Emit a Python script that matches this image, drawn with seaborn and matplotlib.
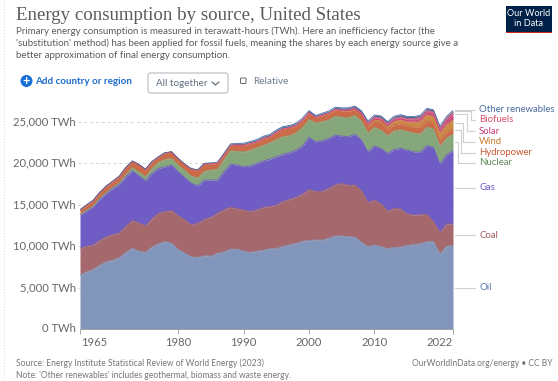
import numpy as np
import pandas as pd
import matplotlib.pyplot as plt
from matplotlib.patches import Circle, FancyBboxPatch, Rectangle
import seaborn as sns

# values in TWh
years = list(range(1965, 2023))
oil = [6500, 6900, 7200, 7700, 8100, 8300, 8600, 9250, 9750, 9400,
       9250, 9900, 10300, 10550, 10350, 9600, 9150, 8700, 8650, 8850,
       8800, 9150, 9300, 9650, 9650, 9400, 9250, 9400, 9500, 9700,
       9700, 10000, 10150, 10350, 10600, 10700, 10750, 10750, 10950, 11250,
       11250, 11150, 11100, 10450, 9950, 10150, 9950, 9700, 9850, 9900,
       10100, 10200, 10300, 10550, 10550, 9050, 10000, 10100]
coal = [3250, 3100, 2950, 3000, 3030, 3100, 3000, 3150, 3350, 3400,
        3230, 3400, 3700, 3650, 3950, 4100, 4050, 3860, 4150, 4400,
        4700, 4850, 5100, 5050, 4900, 4970, 4950, 5000, 5200, 5100,
        5270, 5400, 5510, 5550, 5700, 6170, 5850, 5880, 6050, 6150,
        6350, 6200, 6300, 6250, 5310, 5430, 5150, 4550, 4720, 4600,
        3800, 3570, 3500, 3300, 2410, 2580, 2690, 2590]
gas = [4020, 4300, 4650, 5000, 5270, 5600, 5870, 6000, 6010, 5700,
       5420, 5500, 5400, 5400, 5500, 5300, 5100, 5040, 4500, 4750,
       4500, 4000, 4600, 5200, 5250, 5230, 5500, 5600, 5600, 5700,
       5830, 5700, 5640, 5700, 5800, 6280, 6000, 6120, 6000, 6030,
       5700, 5880, 6100, 6100, 6140, 6520, 6700, 6950, 7130, 7320,
       7700, 7630, 7530, 8290, 8980, 8300, 8330, 8850]
nuclear = [30, 40, 50, 90, 90, 120, 200, 280, 380, 460,
           500, 600, 750, 900, 780, 800, 850, 870, 950, 1050,
           1200, 1300, 1450, 1650, 1650, 1800, 1900, 1880, 1900, 2000,
           2100, 2150, 2050, 2100, 2250, 2150, 2300, 2300, 2250, 2300,
           2300, 2300, 2300, 2300, 2300, 2280, 2220, 2180, 2240, 2250,
           2250, 2250, 2250, 2250, 2250, 2130, 2050, 2000]
hydro = [570, 630, 670, 680, 750, 710, 770, 800, 780, 900,
         880, 800, 630, 780, 800, 780, 730, 860, 920, 880,
         760, 700, 630, 620, 740, 780, 770, 700, 780, 700,
         830, 900, 930, 840, 820, 780, 620, 720, 760, 730,
         750, 790, 680, 700, 770, 720, 870, 760, 740, 730,
         680, 730, 800, 780, 750, 750, 680, 660]
wind = [0] * 20 + [2, 3, 4, 5, 6, 8, 9, 9, 10, 10,
                   10, 10, 10, 10, 13, 16, 20, 28, 30, 40,
                   50, 70, 90, 150, 200, 250, 320, 370, 450, 490,
                   500, 600, 680, 700, 730, 840, 950, 1100]
solar = [0] * 43 + [3, 5, 10, 15, 30, 50, 70,
                    100, 140, 190, 220, 260, 320, 410, 520]
biofuels = [0] * 15 + [2, 4, 6, 8, 10, 10, 10, 10, 10, 10,
                       10, 12, 12, 13, 15, 15, 15, 15, 17, 18,
                       20, 25, 30, 35, 45, 60, 80, 110, 160, 190,
                       230, 250, 240, 250, 260, 270, 280, 290, 290, 290,
                       250, 300, 330]
other = [10, 10, 10, 20, 20, 20, 20, 30, 30, 30,
         30, 30, 30, 30, 30, 30, 40, 50, 60, 70,
         100, 120, 140, 170, 220, 240, 250, 270, 270, 280,
         280, 280, 280, 270, 270, 260, 230, 240, 240, 250,
         250, 250, 250, 250, 250, 260, 260, 260, 270, 270,
         270, 270, 270, 270, 260, 250, 250, 250]

sources = ['Oil', 'Coal', 'Gas', 'Nuclear', 'Hydropower', 'Wind', 'Solar', 'Biofuels', 'Other renewables']
palette = ['#8296bb', '#a5696d', '#6f5cc4', '#86a67c', '#cc6b47', '#cb8a45', '#c83e7c', '#e0637f', '#4a6a9e']
label_colors = ['#5a76a8', '#a0585c', '#6a58c8', '#5f8a57', '#c8562e', '#c07a2c', '#c23a78', '#d9506f', '#4a6a9e']
xticks = [1965, 1980, 1990, 2000, 2010, 2022]
yticks = [0, 5000, 10000, 15000, 20000, 25000]

df = pd.DataFrame(dict(zip(sources, [oil, coal, gas, nuclear, hydro, wind, solar, biofuels, other])), index=years)

sns.set_theme(style='white')
plt.rcParams['font.family'] = ['Lato', 'DejaVu Sans']

fig = plt.figure(figsize=(5.58, 3.81), dpi=100, facecolor='white')
W, H = 558, 381

# plot area: 1965..2022 spans px 80..453, 0 TWh sits at y 329
ax = fig.add_axes([80 / W, 1 - 329 / H, 373 / W, 229 / H])
ax.stackplot(df.index, df.T.values, colors=palette, linewidth=0, zorder=2)
tops = df.cumsum(axis=1)
for name, col in zip(sources, palette):
    sns.lineplot(x=tops.index, y=tops[name].values, color=col, lw=0.6, ax=ax, zorder=3)
    
ax.set_xlim(1965, 2022)
ax.set_ylim(0, 27660)
ax.set_yticks(yticks)
ax.set_xticks(xticks)
ax.set_yticklabels([])
ax.set_xticklabels([])
ax.set_xlabel('')
ax.set_ylabel('')
for s in ['top', 'right', 'left']:
    ax.spines[s].set_visible(False)
ax.spines['bottom'].set_color('#9a9a9a')
ax.spines['bottom'].set_linewidth(0.6)
ax.tick_params(axis='x', length=3.5, width=0.6, color='#9a9a9a', bottom=True)
ax.tick_params(axis='y', length=0)
ax.patch.set_alpha(0)

# overlay in pixel coordinates for all the text and page furniture
ov = fig.add_axes([0, 0, 1, 1], zorder=-1)
ov.set_xlim(0, W)
ov.set_ylim(H, 0)
ov.axis('off')
top = fig.add_axes([0, 0, 1, 1], zorder=5)
top.set_xlim(0, W)
top.set_ylim(H, 0)
top.axis('off')
top.patch.set_alpha(0)

grey = '#5b5b5b'
ov.plot([4, 4], [0, H], color='#dcdcdc', lw=0.8, ls=':')
for t in yticks[1:]:
    y = 329 - t / 27660 * 229
    ov.plot([78, 453], [y, y], color='#d4d4d4', lw=0.7, ls=(0, (3, 3)))
for t in yticks:
    y = 329 - t / 27660 * 229
    top.text(76, y, f'{t:,} TWh', ha='right', va='center', fontsize=8.1, color='#666666')
for t in xticks:
    x = 80 + (t - 1965) / 57 * 373
    ha = 'left' if t == 1965 else 'right' if t == 2022 else 'center'
    top.text(x + (1 if t == 1965 else 0), 342, str(t), ha=ha, va='center', fontsize=8.1, color='#666666')

top.text(16, 15, 'Energy consumption by source, United States', family='Liberation Serif',
         fontsize=13.6, color='#5b5b5b', va='center')
top.text(16, 31, 'Primary energy consumption is measured in terawatt-hours (TWh). Here an inefficiency factor (the',
         fontsize=7.05, color=grey, va='center')
top.text(16, 43.3, "'substitution' method) has been applied for fossil fuels, meaning the shares by each energy source give a",
         fontsize=7.05, color=grey, va='center')
top.text(16, 55, 'better approximation of final energy consumption.', fontsize=7.05, color=grey, va='center')

# logo
top.add_patch(Rectangle((506, 6), 46, 27, fc='#002147', ec='none'))
top.add_patch(Rectangle((506, 31.5), 46, 1.5, fc='#ce261e', ec='none'))
top.text(529, 18.5, 'Our World\nin Data', color='white', fontsize=6.6, ha='center', va='center', linespacing=1.05)

# controls
top.add_patch(Circle((26.5, 81), 6, fc='#1a6fd6', ec='none'))
top.text(26.5, 80.8, '+', color='white', fontsize=9, fontweight='bold', ha='center', va='center')
top.text(35, 81, 'Add country or region', color='#1d6ccc', fontsize=7.1, fontweight='bold', va='center')
top.add_patch(FancyBboxPatch((148, 73), 80, 20, boxstyle='round,pad=0,rounding_size=2.5', fc='white', ec='#b5bcc4', lw=0.8))
top.text(156.5, 83, 'All together', color='#5f6f80', fontsize=7.1, va='center')
top.plot([212, 215.5, 219], [82, 85, 82], color='#5f6f80', lw=0.9)
top.add_patch(FancyBboxPatch((240.5, 78), 5.5, 5.5, boxstyle='round,pad=0,rounding_size=1', fc='white', ec='#666666', lw=0.7))
top.text(253, 81.5, 'Relative', color='#6f7f90', fontsize=7.2, va='center')

# end labels with their connector lines
label_y = [288, 235, 187.5, 162.5, 152.5, 141.5, 131, 120, 110]
line_y = [288, 235, 187.5, 142.3, 130, 122.7, 114.3, 111.3, 110]
elbow_x = [None, None, None, 457.7, 461, 462.7, 466.7, 470.7, None]
line_c = '#cfcfcf'
for name, c, ly, sy, ex in zip(sources, label_colors, label_y, line_y, elbow_x):
    if ex is None:
        top.plot([455, 475], [sy, sy], color=line_c, lw=0.8)
    else:
        top.plot([455, ex, ex, 475], [sy, sy, ly, ly], color=line_c, lw=0.8)
    top.text(479, ly, name, color=c, fontsize=6.9, va='center')

# footer
top.text(16, 363, 'Source: Energy Institute Statistical Review of World Energy (2023)', fontsize=6.15, color='#777777', va='center')
top.text(16, 375, "Note: 'Other renewables' includes geothermal, biomass and waste energy.", fontsize=6.15, color='#777777', va='center')
top.text(552, 363, 'OurWorldInData.org/energy • CC BY', fontsize=6.15, color='#777777', va='center', ha='right')

fig.savefig('out.png', dpi=100)
